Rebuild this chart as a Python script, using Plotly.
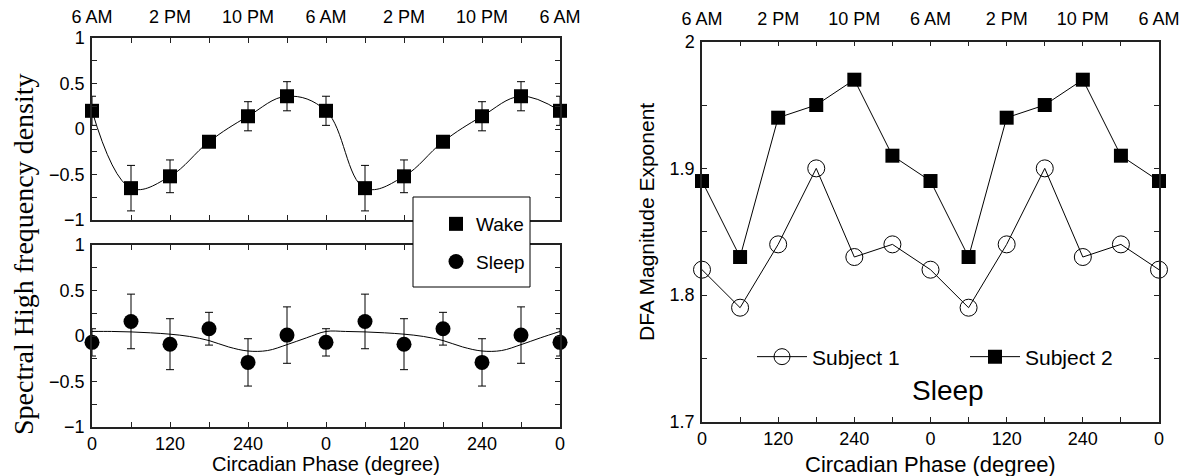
import plotly.graph_objects as go

# ---------------- data ----------------
phase = [0, 60, 120, 180, 240, 300, 360, 420, 480, 540, 600, 660, 720]
wake = [0.20, -0.65, -0.52, -0.14, 0.14, 0.36, 0.20, -0.65, -0.52, -0.14, 0.14, 0.36, 0.20]
wake_err = [0.16, 0.25, 0.18, 0.05, 0.16, 0.16, 0.16, 0.25, 0.18, 0.05, 0.16, 0.16, 0.16]
sleep = [-0.07, 0.16, -0.09, 0.08, -0.29, 0.01, -0.07, 0.16, -0.09, 0.08, -0.29, 0.01, -0.07]
sleep_err = [0.15, 0.30, 0.28, 0.18, 0.26, 0.31, 0.15, 0.30, 0.28, 0.18, 0.26, 0.31, 0.15]
fit_phase = [0, 30, 60, 90, 120, 150, 180, 210, 240, 270, 300, 330, 360,
             390, 420, 450, 480, 510, 540, 570, 600, 630, 660, 690, 720]
sleep_fit = [0.05, 0.05, 0.045, 0.035, 0.02, -0.005, -0.05, -0.12, -0.165, -0.16, -0.095, -0.02, 0.05,
             0.05, 0.045, 0.035, 0.02, -0.005, -0.05, -0.12, -0.165, -0.16, -0.095, -0.02, 0.05]
subject1 = [1.82, 1.79, 1.84, 1.90, 1.83, 1.84, 1.82, 1.79, 1.84, 1.90, 1.83, 1.84, 1.82]
subject2 = [1.89, 1.83, 1.94, 1.95, 1.97, 1.91, 1.89, 1.83, 1.94, 1.95, 1.97, 1.91, 1.89]

deg_ticks = [0, 60, 120, 180, 240, 300, 360, 420, 480, 540, 600, 660, 720]
deg_labels = ["0", "", "120", "", "240", "", "0", "", "120", "", "240", "", "0"]
time_labels = ["6 AM", "", "2 PM", "", "10 PM", "", "6 AM", "", "2 PM", "", "10 PM", "", "6 AM"]
hf_ticks = [-1, -0.75, -0.5, -0.25, 0, 0.25, 0.5, 0.75, 1]
hf_labels = ["\u22121", "", "\u22120.5", "", "0", "", "0.5", "", "1"]
dfa_ticks = [1.7, 1.75, 1.8, 1.85, 1.9, 1.95, 2.0]
dfa_labels = ["1.7", "", "1.8", "", "1.9", "", "2"]

W, H = 1191, 476
FONT = "Liberation Sans, Arial, sans-serif"
AX = "#222222"
TICK = 18

def px_x(p):
    return p / W

def px_y(p):
    return 1 - p / H

fig = go.Figure()

# Wake (top left)
fig.add_trace(go.Scatter(x=phase, y=wake, mode="lines", line=dict(color="black", width=1, shape="spline", smoothing=1.1),
                         showlegend=False, xaxis="x", yaxis="y", hoverinfo="skip"))
fig.add_trace(go.Scatter(x=phase, y=wake, mode="markers", name="Wake",
                         marker=dict(symbol="square", size=14, color="black"),
                         error_y=dict(type="data", array=wake_err, color="black", thickness=1, width=4),
                         cliponaxis=False, xaxis="x", yaxis="y", legend="legend", legendgroup="a"))
# Sleep (bottom left)
fig.add_trace(go.Scatter(x=fit_phase, y=sleep_fit, mode="lines", line=dict(color="black", width=1, shape="spline", smoothing=1.0),
                         showlegend=False, xaxis="x2", yaxis="y2", hoverinfo="skip"))
fig.add_trace(go.Scatter(x=phase, y=sleep, mode="markers", name="Sleep",
                         marker=dict(symbol="circle", size=15, color="black"),
                         error_y=dict(type="data", array=sleep_err, color="black", thickness=1, width=4),
                         cliponaxis=False, xaxis="x2", yaxis="y2", legend="legend", legendgroup="b"))
# Right panel
fig.add_trace(go.Scatter(x=phase, y=subject1, mode="lines+markers", name="Subject 1",
                         line=dict(color="black", width=1),
                         marker=dict(symbol="circle-open", size=17, color="black", line=dict(width=1)),
                         cliponaxis=False, xaxis="x3", yaxis="y3", legend="legend2"))
fig.add_trace(go.Scatter(x=phase, y=subject2, mode="lines+markers", name="Subject 2",
                         line=dict(color="black", width=1),
                         marker=dict(symbol="square", size=14, color="black"),
                         cliponaxis=False, xaxis="x3", yaxis="y3", legend="legend2"))
# dummy trace for the top axis of the right panel so it renders
fig.add_trace(go.Scatter(x=[None], y=[None], xaxis="x4", yaxis="y3", showlegend=False, hoverinfo="skip"))

common_axis = dict(showline=True, linecolor=AX, linewidth=1.5, ticks="inside", ticklen=5,
                   tickcolor=AX, tickwidth=1, showgrid=False, zeroline=False,
                   tickfont=dict(family=FONT, size=TICK, color="black"))

xL = [px_x(92), px_x(560)]
xR = [px_x(702), px_x(1159)]
fig.update_layout(
    width=W, height=H, margin=dict(l=0, r=0, t=0, b=0, autoexpand=False),
    paper_bgcolor="white", plot_bgcolor="white",
    font=dict(family=FONT, color="black"),
    xaxis=dict(domain=xL, range=[0, 720], side="top", tickmode="array", tickvals=deg_ticks,
               ticktext=time_labels, mirror="ticks", anchor="y", ticklabelstandoff=6, **common_axis),
    yaxis=dict(domain=[px_y(220), px_y(38)], range=[-1, 1], tickmode="array", tickvals=hf_ticks,
               ticktext=hf_labels, mirror="ticks", anchor="x", ticklabelstandoff=2, **common_axis),
    xaxis2=dict(domain=xL, range=[0, 720], side="bottom", tickmode="array", tickvals=deg_ticks,
                ticktext=deg_labels, mirror="ticks", anchor="y2", ticklabelstandoff=0, **common_axis),
    yaxis2=dict(domain=[px_y(427), px_y(245)], range=[-1, 1], tickmode="array", tickvals=hf_ticks,
                ticktext=hf_labels, mirror="ticks", anchor="x2", ticklabelstandoff=2, **common_axis),
    xaxis3=dict(domain=xR, range=[0, 720], side="bottom", tickmode="array",
                tickvals=deg_ticks, ticktext=deg_labels, mirror="ticks", anchor="y3", ticklabelstandoff=0,
                **common_axis),
    xaxis4=dict(domain=xR, range=[0, 720], side="top", tickmode="array",
                tickvals=deg_ticks, ticktext=time_labels, overlaying="x3", anchor="y3",
                showline=False, ticks="", showgrid=False, zeroline=False, ticklabelstandoff=12,
                tickfont=dict(family=FONT, size=TICK, color="black")),
    yaxis3=dict(domain=[px_y(421.7), px_y(41.7)], range=[1.7, 2.0], tickmode="array", tickvals=dfa_ticks,
                ticktext=dfa_labels, mirror="ticks", anchor="x3", ticklabelstandoff=2, **common_axis),
    legend=dict(x=px_x(436), y=px_y(205), xanchor="left", yanchor="top", bgcolor="rgba(0,0,0,0)",
                borderwidth=0, font=dict(family=FONT, size=19, color="black"),
                traceorder="grouped", tracegroupgap=10, itemwidth=30),
    legend2=dict(x=px_x(752), y=px_y(357), xanchor="left", yanchor="middle", orientation="h",
                 bgcolor="rgba(0,0,0,0)", borderwidth=0, entrywidth=148, entrywidthmode="pixels",
                 font=dict(family=FONT, size=21, color="black"), itemwidth=50),
    showlegend=True,
    shapes=[dict(type="rect", xref="paper", yref="paper", x0=px_x(413), x1=px_x(530),
                 y0=px_y(287), y1=px_y(197), line=dict(color="black", width=1),
                 fillcolor="white", layer="above")],
)

annots = [
    dict(text="Spectral High frequency density", x=px_x(23), y=px_y(254), textangle=-90,
         font=dict(family="Liberation Serif, Times New Roman, serif", size=28, color="black")),
    dict(text="Circadian Phase (degree)", x=px_x(326), y=px_y(464),
         font=dict(family=FONT, size=20, color="black")),
    dict(text="Circadian Phase (degree)", x=px_x(930), y=px_y(464),
         font=dict(family=FONT, size=22, color="black")),
    dict(text="DFA Magnitude Exponent", x=px_x(646), y=px_y(222), textangle=-90,
         font=dict(family=FONT, size=21, color="black")),
    dict(text="Sleep", x=px_x(948), y=px_y(390),
         font=dict(family=FONT, size=28, color="black")),
]
for a in annots:
    fig.add_annotation(xref="paper", yref="paper", showarrow=False, xanchor="center", yanchor="middle", **a)

fig.write_html("out.html")
